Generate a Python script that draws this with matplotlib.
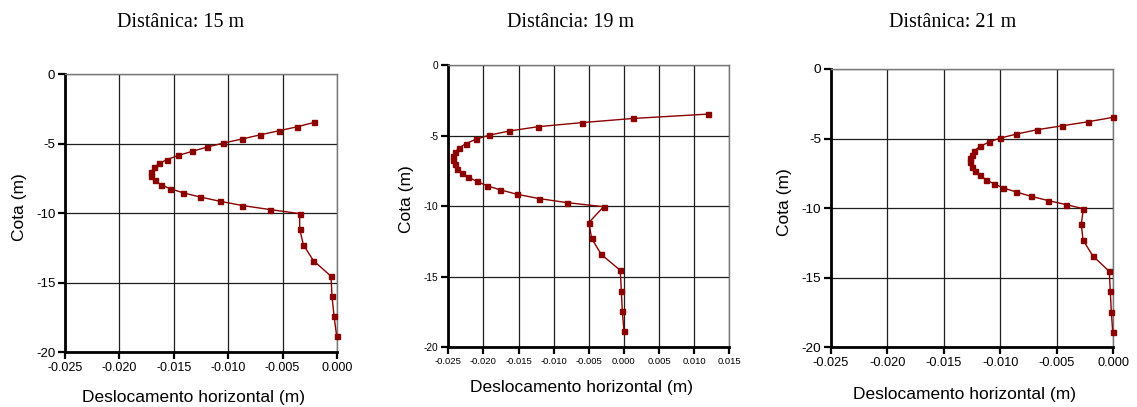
#!/usr/bin/env python3
# -*- coding: utf-8 -*-

import matplotlib
matplotlib.use('Agg')
import matplotlib.pyplot as plt

plt.rcParams['font.family'] = ['Liberation Sans', 'DejaVu Sans']
plt.rcParams['axes.unicode_minus'] = False

# cota dos pontos de leitura (m), comum aos tres perfis
cota = [-3.48, -3.79, -4.08, -4.37, -4.68, -4.97, -5.26, -5.57, -5.86, -6.15,
        -6.43, -6.72, -7.03, -7.35, -7.64, -7.95, -8.24, -8.55, -8.84, -9.15,
        -9.46, -9.75, -10.04, -11.16, -12.29, -13.42, -14.55, -15.99, -17.43, -18.87]

# deslocamento horizontal (m) para cada distancia
desl_15 = [-0.00208, -0.00364, -0.00532, -0.00704, -0.00875, -0.01047, -0.01196,
           -0.01334, -0.01460, -0.01561, -0.01634, -0.01680, -0.01707, -0.01711,
           -0.01677, -0.01622, -0.01536, -0.01414, -0.01261, -0.01080, -0.00869,
           -0.00618, -0.00343, -0.00343, -0.00309, -0.00217, -0.00055, -0.00046,
           -0.00027, -0.00003]
desl_19 = [0.01192, 0.00124, -0.00593, -0.01219, -0.01636, -0.01916, -0.02106,
           -0.02249, -0.02343, -0.02400, -0.02429, -0.02434, -0.02410, -0.02372,
           -0.02301, -0.02215, -0.02097, -0.01950, -0.01765, -0.01527, -0.01214,
           -0.00811, -0.00289, -0.00498, -0.00460, -0.00322, -0.00052, -0.00037,
           -0.00023, 0.00001]
desl_21 = [-0.00003, -0.00219, -0.00449, -0.00677, -0.00857, -0.01002, -0.01102,
           -0.01179, -0.01229, -0.01253, -0.01268, -0.01271, -0.01253, -0.01220,
           -0.01179, -0.01129, -0.01058, -0.00972, -0.00857, -0.00727, -0.00573,
           -0.00414, -0.00263, -0.00281, -0.00266, -0.00180, -0.00033, -0.00024,
           -0.00015, -0.00003]

titulos = ['Distânica: 15 m', 'Distância: 19 m', 'Distânica: 21 m']

xticks_a = [-0.025, -0.020, -0.015, -0.010, -0.005, 0.000]
xlabels_a = ['-0.025', '-0.020', '-0.015', '-0.010', '-0.005', '0.000']
xticks_b = [-0.025, -0.020, -0.015, -0.010, -0.005, 0.000, 0.005, 0.010, 0.015]
xlabels_b = ['-0.025', '-0.020', '-0.015', '-0.010', '-0.005', '0.000', '0.005', '0.010', '0.015']
yticks = [-20, -15, -10, -5, 0]
ylabels = ['-20', '-15', '-10', '-5', '0']

COR = '#8B0000'


def desenha_perfil(ax, desl, xticks, xlabels, tick_fs, xlab_pos, ylab_pos):
    ax.plot(desl, cota, color=COR, linewidth=1.0, marker='s', markersize=3.6,
            markerfacecolor=COR, markeredgecolor=COR, clip_on=False, zorder=3)
    ax.set_xlim(xticks[0], xticks[-1])
    ax.set_ylim(-20, 0)
    ax.set_xticks(xticks)
    ax.set_xticklabels(xlabels, fontsize=tick_fs)
    ax.set_yticks(yticks)
    ax.set_yticklabels(ylabels, fontsize=tick_fs + 0.5)
    ax.grid(True, color='#1e1e1e', linewidth=0.9)
    ax.set_axisbelow(True)

    for lado in ['left', 'bottom']:
        ax.spines[lado].set_linewidth(2.0)
        ax.spines[lado].set_color('black')
    for lado in ['top', 'right']:
        ax.spines[lado].set_linewidth(1.0)
        ax.spines[lado].set_color('#777777')
    ax.tick_params(direction='out', length=5, width=1.6, pad=2, colors='black')

    ax.set_xlabel('Deslocamento horizontal (m)', fontsize=12.5)
    ax.set_ylabel('Cota (m)', fontsize=12.5)
    ax.xaxis.set_label_coords(*xlab_pos)
    ax.yaxis.set_label_coords(*ylab_pos)


def main():
    fig = plt.figure(figsize=(11.37, 4.07), dpi=100)

    ax1 = fig.add_axes([0.0572, 0.1351, 0.2392, 0.6830])
    ax2 = fig.add_axes([0.3943, 0.1467, 0.2471, 0.6936])
    ax3 = fig.add_axes([0.7309, 0.1467, 0.2480, 0.6838])

    desenha_perfil(ax1, desl_15, xticks_a, xlabels_a, 9, (0.473, -0.137), (-0.1415, 0.52))
    desenha_perfil(ax2, desl_19, xticks_b, xlabels_b, 6.8, (0.474, -0.116), (-0.122, 0.524))
    desenha_perfil(ax3, desl_21, xticks_a, xlabels_a, 9.2, (0.472, -0.1416), (-0.140, 0.523))

    for titulo, xc, yb in zip(titulos, [181, 571, 953], [26.7, 26.7, 27.3]):
        fig.text(xc / 1137, 1 - yb / 407, titulo, ha='center', va='baseline',
                 fontsize=14.5, family=['Liberation Serif', 'DejaVu Serif'])

    fig.savefig('out.png', dpi=100)
    plt.close(fig)


if __name__ == "__main__":
    main()
